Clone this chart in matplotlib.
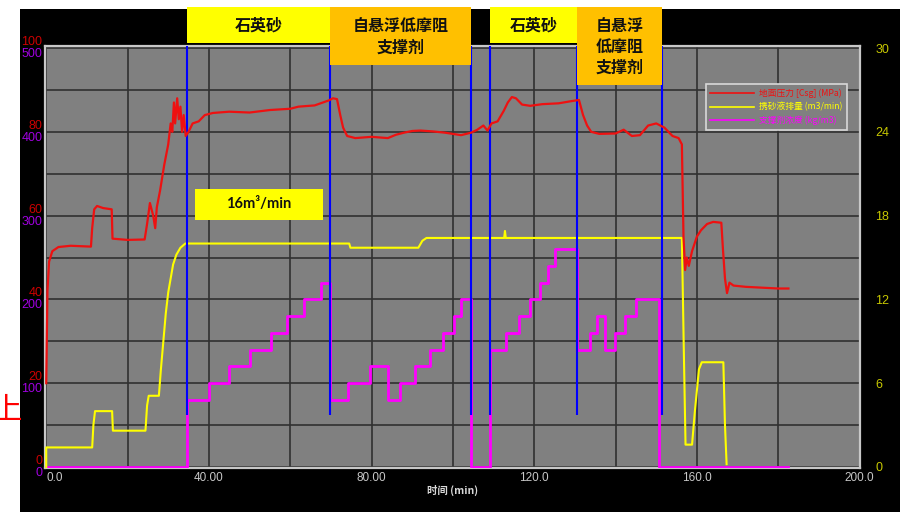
import matplotlib
matplotlib.use("Agg")
import matplotlib.pyplot as plt
from matplotlib import transforms
from matplotlib.patches import Rectangle
from matplotlib.lines import Line2D

plt.rcParams['font.family'] = ['Noto Sans CJK SC', 'DejaVu Sans']
TICK_FONT = ['Liberation Sans Narrow', 'Liberation Sans']

# 地面压力 [Csg] (MPa)
pres_t = [0, 0.1, 0.3, 0.7, 1.5, 3, 6, 11, 11.3, 11.8, 12.5, 14, 16.1, 16.3, 20, 24.2,
          24.8, 25.5, 26.3, 26.8, 27.2, 28, 29, 30, 30.6, 31, 31.4, 31.7, 32.2, 32.6,
          33, 33.4, 33.8, 34.3, 35, 36, 37.5, 39, 41, 45, 50, 55, 60, 62, 66, 69.5,
          70.5, 71.5, 72.3, 73, 74, 76, 80, 84, 86, 88, 90, 92, 95, 98, 100, 102,
          104.5, 106, 107.5, 108.5, 109.5, 111, 112.5, 113.5, 114.5, 115.5, 117, 119,
          122, 126, 129, 131, 132, 133, 134, 136, 140, 142, 144, 146, 148, 150, 152,
          154, 155.5, 156.3, 156.7, 157.1, 157.5, 158, 158.8, 160, 161, 162.5, 164,
          166, 166.4, 166.9, 167.4, 168, 169, 172, 176, 180, 182.5]
pres = [20, 27, 42, 49, 51.5, 52.5, 52.8, 52.6, 57, 61.5, 62.3, 61.8, 61.5, 54.5, 54.2, 54.3,
        58, 63, 60, 57, 62, 66, 72, 77, 82, 80, 87, 82, 88, 83,
        86, 80, 84, 79, 80, 82, 82.5, 84, 84.5, 84.8, 84.6, 85.2, 85.5, 86, 86.3, 87.5,
        88, 87.8, 84, 81, 79, 78.5, 78.8, 78.5, 79.3, 79.8, 80.2, 80.3, 80.1, 79.8, 79.5, 79.2,
        79.8, 80.5, 81.5, 80.3, 82, 82.5, 85, 87, 88.3, 88, 86.5, 86.2,
        86.6, 86.8, 87.3, 87.6, 84, 81.5, 80, 79.5, 79.6, 80.5, 79, 79.2, 81.5, 82, 81,
        79, 78.5, 77, 55, 47, 50, 48, 51.5, 55, 56.5, 58, 58.5,
        58.3, 52, 45, 41.5, 44, 43.3, 43, 42.8, 42.6, 42.6]

# 携砂液排量 (m3/min)
rate_t = [0, 0, 11.3, 11.6, 12, 16.2, 16.4, 24.4, 24.8, 25.2, 27.7, 28.2, 28.8, 29.4,
          30, 30.6, 31.2, 32, 33, 34.2, 74.5, 74.8, 91.5, 92.5, 93.5, 112.6, 112.8, 113,
          156.3, 156.8, 157.2, 158.8, 159.5, 160.5, 161.2, 166.5, 166.9, 167.3]
rate = [0, 1.4, 1.4, 3.0, 4.0, 4.0, 2.6, 2.6, 4.4, 5.1, 5.1, 7, 9, 11,
        12.5, 13.5, 14.5, 15.2, 15.7, 16.0, 16.0, 15.7, 15.7, 16.2, 16.4, 16.4, 16.9, 16.4,
        16.4, 8, 1.6, 1.6, 4, 7, 7.5, 7.5, 3, 0.2]

# 支撑剂浓度 (kg/m3), stepped
conc_t = [0, 34.6, 40.0, 45.0, 50.2, 55.3, 59.3, 63.3, 67.6, 69.8, 74.2, 79.6, 84.0, 87.0,
          90.7, 94.3, 97.5, 100.3, 101.9, 104.4, 109.1, 113.0, 116.3, 119.0, 121.4, 123.4,
          125.1, 130.5, 133.7, 135.4, 137.4, 139.8, 142.3, 145.0, 150.6, 182.3]
conc = [0, 80, 100, 120, 140, 160, 180, 200, 220, 80, 100, 120, 80, 100,
        120, 140, 160, 180, 200, 0, 140, 160, 180, 200, 220, 240,
        260, 140, 160, 180, 140, 160, 180, 200, 0, 0]

# 施工段
stage_edges = [34.6, 69.8, 104.4, 109.1, 130.5, 151.4]
stage_spans = [(34.6, 69.8), (69.8, 104.4), (109.1, 130.5), (130.5, 151.4)]
stage_names = ['石英砂', '自悬浮低摩阻\n支撑剂', '石英砂', '自悬浮\n低摩阻\n支撑剂']
stage_colors = ['#ffff00', '#ffc000', '#ffff00', '#ffc000']
stage_bottom_px = [43, 65, 43, 85]

x_ticks = list(range(0, 201, 20))
x_labels = ['0.0', '', '40.00', '', '80.00', '', '120.0', '', '160.0', '', '200.0']
pres_ticks = [0, 20, 40, 60, 80, 100]
conc_ticks = [0, 100, 200, 300, 400, 500]
rate_ticks = [0, 6, 12, 18, 24, 30]

W, H = 900, 512
fig = plt.figure(figsize=(W / 100, H / 100), dpi=100, facecolor='white')
fig.add_artist(Rectangle((20 / W, 0), 1, 1 - 9 / H, transform=fig.transFigure,
                         facecolor='black', edgecolor='none', zorder=-1))

ax = fig.add_axes([45 / W, 1 - 468 / H, 815 / W, 422 / H])
ax.set_facecolor('#808080')
ax.set_xlim(-0.3, 200.1)
ax.set_ylim(-1.2, 502.4)
ax.set_xticks(x_ticks)
ax.set_xticklabels(x_labels, family=TICK_FONT, fontsize=8.5, color='#c8c8c8')
ax.get_xticklabels()[0].set_ha('left')
ax.set_yticks(conc_ticks)
ax.set_yticks([50, 150, 250, 350, 450], minor=True)
ax.set_yticklabels([str(v) for v in conc_ticks], family=TICK_FONT, fontsize=9,
                   color='#a000e0', va='top')
ax.tick_params(axis='both', which='both', length=0)
ax.tick_params(axis='x', pad=3)
ax.tick_params(axis='y', pad=2)
ax.grid(True, which='both', color='#303030', lw=1.2)
ax.set_axisbelow(True)
for s in ax.spines.values():
    s.set_color('#c8c8c8')
    s.set_linewidth(1.6)
ax.set_xlabel('时间 (min)', fontsize=7.5, color='#d8d8d8', fontweight='bold')
ax.xaxis.set_label_coords(0.5, -(490 - 468) / 422)
ax.xaxis.label.set_va('center')

ax.plot(conc_t, conc, color='#ff00ff', lw=2, drawstyle='steps-post', zorder=3)

# 排量轴 (right)
ax_r = ax.twinx()
ax_r.set_ylim(-0.072, 30.144)
ax_r.set_yticks(rate_ticks)
ax_r.set_yticklabels([str(v) for v in rate_ticks], family=TICK_FONT, fontsize=9,
                     color='#c8c800')
ax_r.tick_params(axis='y', length=0, pad=11)
for s in ax_r.spines.values():
    s.set_visible(False)

ax_r.plot(rate_t, rate, color='#ffff00', lw=1.5)
ax_r.vlines(stage_edges, 3.7, 30.144, color='#0000ff', lw=1.5)

# stage boxes along the top
bt = transforms.blended_transform_factory(ax_r.transData, fig.transFigure)
for (x0, x1), name, col, bpx in zip(stage_spans, stage_names, stage_colors, stage_bottom_px):
    y0 = 1 - bpx / H
    y1 = 1 - 7 / H
    ax_r.add_patch(Rectangle((x0, y0), x1 - x0, y1 - y0, transform=bt,
                             facecolor=col, edgecolor='none', clip_on=False, zorder=5))
    ax_r.text((x0 + x1) / 2, (y0 + y1) / 2 - 1 / H, name, transform=bt, ha='center',
              va='center', fontsize=11.5, fontweight='bold', color='#111111',
              linespacing=1.4, zorder=6, clip_on=False)

ax_r.add_patch(Rectangle((36.6, 17.7), 31.4, 2.2, facecolor='#ffff00',
                         edgecolor='none', zorder=5))
ax_r.text(52.3, 18.8, '16m³/min', ha='center', va='center', fontsize=10.5,
          fontweight='bold', family=['Lato', 'DejaVu Sans'], color='#111111', zorder=6)

# 压力轴 (left, red)
ax_p = ax.twinx()
ax_p.set_ylim(-0.24, 100.48)
ax_p.yaxis.tick_left()
ax_p.set_yticks(pres_ticks)
ax_p.set_yticklabels([str(v) for v in pres_ticks], family=TICK_FONT, fontsize=9,
                     color='#cc0000', va='bottom')
ax_p.tick_params(axis='y', length=0, pad=2)
for s in ax_p.spines.values():
    s.set_visible(False)

ax_p.plot(pres_t, pres, color='#ee1111', lw=1.6)

handles = [Line2D([], [], color='#ee1111', lw=1.2),
           Line2D([], [], color='#ffff00', lw=1.2),
           Line2D([], [], color='#ff00ff', lw=1.2)]
labels = ['地面压力 [Csg] (MPa)', '携砂液排量 (m3/min)', '支撑剂浓度 (kg/m3)']
leg = ax_p.legend(handles, labels, loc='upper right',
                  bbox_to_anchor=(847 / W, 1 - 84 / H), bbox_transform=fig.transFigure,
                  borderaxespad=0, fontsize=6.3, frameon=True, fancybox=False,
                  facecolor='#808080', edgecolor='#d8d8d8', framealpha=1,
                  handlelength=5.0, handletextpad=0.6, labelspacing=0.5,
                  borderpad=0.5, labelcolor='linecolor')
leg.get_frame().set_linewidth(1.2)

fig.text(-9 / W, 1 - 411 / H, '上', fontsize=22, color='#ff0000', ha='left', va='center')

fig.savefig('out.png', dpi=100, facecolor=fig.get_facecolor())
